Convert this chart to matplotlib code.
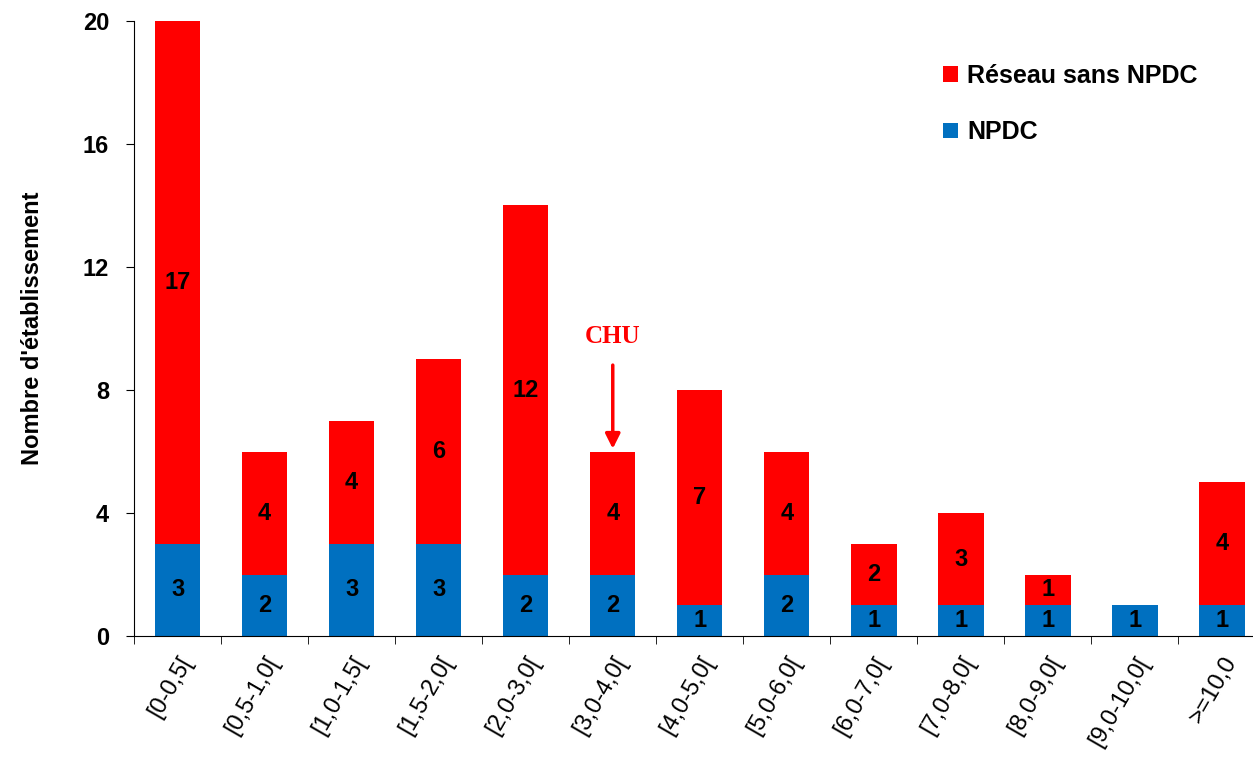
import matplotlib.pyplot as plt
import numpy as np

categories = ['[0-0,5[', '[0,5-1,0[', '[1,0-1,5[', '[1,5-2,0[', '[2,0-3,0[', '[3,0-4,0[',
              '[4,0-5,0[', '[5,0-6,0[', '[6,0-7,0[', '[7,0-8,0[', '[8,0-9,0[', '[9,0-10,0[', '>=10,0']
npdc = [3, 2, 3, 3, 2, 2, 1, 2, 1, 1, 1, 1, 1]
reseau = [17, 4, 4, 6, 12, 4, 7, 4, 2, 3, 1, 0, 4]

blue = '#0070C0'
red = '#FF0000'

plt.rcParams['font.family'] = ['Liberation Sans', 'DejaVu Sans']

fig = plt.figure(figsize=(12.53, 7.66), dpi=100)
ax = fig.add_axes([0.107, 0.1697, 0.903, 0.8029])

x = np.arange(len(categories))
b1 = ax.bar(x, npdc, width=0.52, color=blue, label='NPDC')
b2 = ax.bar(x, reseau, width=0.52, bottom=npdc, color=red, label='Réseau sans NPDC')

# value labels centred in each segment
for i in range(len(categories)):
    if npdc[i] > 0:
        ax.text(x[i], npdc[i] / 2, str(npdc[i]), ha='center', va='center',
                fontsize=17, fontweight='bold')
    if reseau[i] > 0:
        ax.text(x[i], npdc[i] + reseau[i] / 2, str(reseau[i]), ha='center', va='center',
                fontsize=17, fontweight='bold')

ax.set_xlim(-0.5, len(categories) - 0.5)
ax.set_ylim(0, 20)
ax.set_yticks([0, 4, 8, 12, 16, 20])
ax.set_yticklabels(['0', '4', '8', '12', '16', '20'], fontsize=17, fontweight='bold')
ax.set_xticks(x)
ax.set_xticklabels(categories, rotation=60, ha='right', rotation_mode='anchor', fontsize=17)
ax.set_xticks(np.arange(len(categories) + 1) - 0.5, minor=True)
ax.tick_params(axis='x', which='major', length=0, pad=12)
ax.tick_params(axis='x', which='minor', length=6, direction='out')
ax.tick_params(axis='y', length=6, direction='out', pad=12)
ax.spines['top'].set_visible(False)
ax.spines['right'].set_visible(False)
ax.set_ylabel("Nombre d'établissement", fontsize=17, fontweight='bold', labelpad=28)

# CHU arrow
ax.annotate('', xy=(5, npdc[5] + reseau[5]), xytext=(5, 8.9),
            arrowprops=dict(arrowstyle='-|>', color=red, lw=2.5, mutation_scale=22))
ax.text(5, 9.75, 'CHU', color=red, ha='center', va='center', fontsize=18,
        fontweight='bold', family=['Liberation Serif', 'DejaVu Serif'])

fig.legend(handles=[b2, b1], loc='upper left', bbox_to_anchor=(0.735, 0.946),
           frameon=False, handlelength=0.6, handleheight=0.6, handletextpad=0.35,
           labelspacing=1.3, prop={'weight': 'bold', 'size': 18})

fig.savefig('out.png', dpi=100)
